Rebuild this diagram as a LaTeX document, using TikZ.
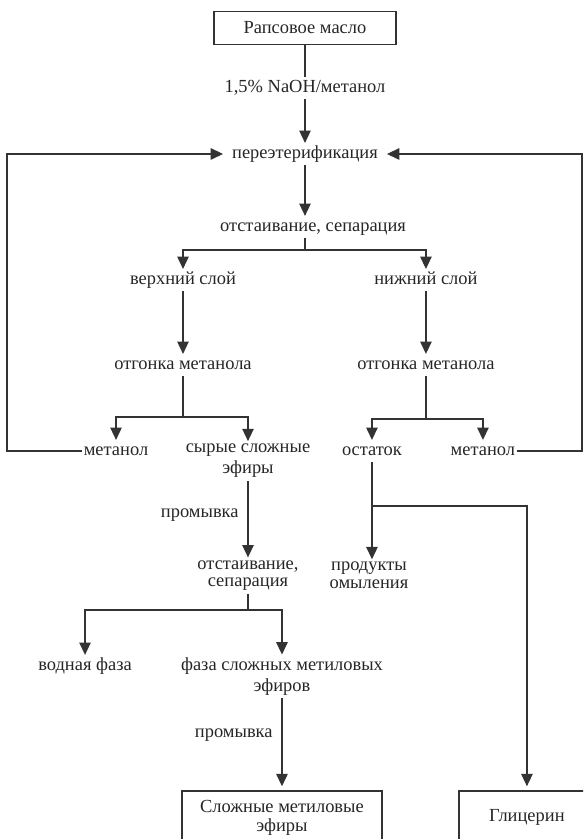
\documentclass[tikz,border=0pt]{standalone}
\usepackage{fontspec}
\setmainfont{Liberation Serif}
\usetikzlibrary{positioning, arrows.meta}

\begin{document}
\begin{tikzpicture}[x=0.02cm, y=-0.02cm, on grid,
    >={Triangle[length=7pt, width=6.5pt]},
    every node/.style={font=\fontsize{10.5}{12}\selectfont, text=black!85, inner xsep=5pt, inner ysep=1.5pt},
    lbl/.style={text height=0.7em, text depth=0.22em},
    lbltwo/.style={align=center},
    box/.style={draw=black!80, line width=0.7pt, align=center},
    flow/.style={draw=black!80, line width=0.7pt}]
    \useasboundingbox (0,0) rectangle (583,839);
    \clip (0,0) rectangle (583,839);

    \node[box, minimum width=3.64cm, minimum height=0.66cm] (oil) at (305,28) {Рапсовое масло};
    \node[lbl] (cat) [below=1.2cm of oil] {1,5\% NaOH/метанол};
    \node[lbl] (trans) [below=1.32cm of cat] {переэтерификация};
    \node[lbl] (sep1) [below right=1.46cm and 0.16cm of trans] {отстаивание, сепарация};
    \node[lbl] (upper) at (183,280) {верхний слой};
    \node[lbl] (lower) [right=4.86cm of upper] {нижний слой};
    \node[lbl] (distA) [below=1.7cm of upper] {отгонка метанола};
    \node[lbl] (distB) [below=1.7cm of lower] {отгонка метанола};
    \node[lbl] (methA) [below left=1.72cm and 1.34cm of distA] {метанол};
    \node[lbltwo] (crude) [below right=1.92cm and 1.3cm of distA] {сырые сложные\\эфиры};
    \node[lbl] (resid) [below left=1.72cm and 1.08cm of distB] {остаток};
    \node[lbl] (methB) [below right=1.72cm and 1.14cm of distB] {метанол};
    \node[lbltwo] (sep2) [below=2.29cm of crude] {отстаивание,\\[-2pt]сепарация};
    \node[lbltwo] (soap) [below left=2.49cm and 0.06cm of resid] {продукты\\[-2pt]омыления};
    \node[lbl] (water) [below left=1.81cm and 3.26cm of sep2] {водная фаза};
    \node[lbltwo] (phase) [below right=2.02cm and 0.68cm of sep2] {фаза сложных метиловых\\эфиров};
    \node[box, minimum width=4cm, minimum height=1.08cm] (fame) [below=2.83cm of phase] {Сложные метиловые\\[-1pt]эфиры};
    \node[box, minimum width=2.72cm, minimum height=1.08cm] (gly) [right=4.9cm of fame] {Глицерин};

    % junctions and return lines
    \coordinate[below=1.92cm of trans] (jS);
    \coordinate[below=1.04cm of distA] (jA);
    \coordinate[below=1.08cm of distB] (jB);
    \coordinate[below=0.69cm of sep2] (jC);
    \coordinate[below=1.1cm of resid] (jD);
    \coordinate (lft) at (7,0);
    \coordinate (rgt) at (582,0);

    \draw[flow] (oil) -- (cat);
    \draw[flow, ->] (cat) -- (trans);
    \draw[flow, ->] (trans) -- (trans |- sep1.north);
    \draw[flow] (sep1.south -| trans) -- (jS);
    \draw[flow, ->] (jS) -| (upper);
    \draw[flow, ->] (jS) -| (lower);
    \draw[flow, ->] (upper) -- (distA);
    \draw[flow, ->] (lower) -- (distB);
    \draw[flow] (distA) -- (jA);
    \draw[flow, ->] (jA) -| (methA);
    \draw[flow, ->] (jA) -| (crude);
    \draw[flow] (distB) -- (jB);
    \draw[flow, ->] (jB) -| (resid);
    \draw[flow, ->] (jB) -| (methB);
    \draw[flow, ->, shorten <=-4pt] (methA.west) -| (lft |- trans) -- (trans.west);
    \draw[flow, ->, shorten <=-4pt] (methB.east) -| (rgt |- trans) -- (trans.east);
    \draw[flow, ->] (crude) -- node[lbl, left, pos=0.43] (washA) {промывка} (sep2);
    \draw[flow] (sep2) -- (jC);
    \draw[flow, ->] (jC) -| (water);
    \draw[flow, ->] (jC) -| (phase);
    \draw[flow, ->, shorten >=2.3pt] (phase) -- node[lbl, left, pos=0.38] (washB) {промывка} (fame);
    \draw[flow, ->] (resid.south) -- (resid.south |- soap.north);
    \draw[flow, ->, shorten >=2.3pt] (jD) -| (gly);
\end{tikzpicture}
\end{document}
